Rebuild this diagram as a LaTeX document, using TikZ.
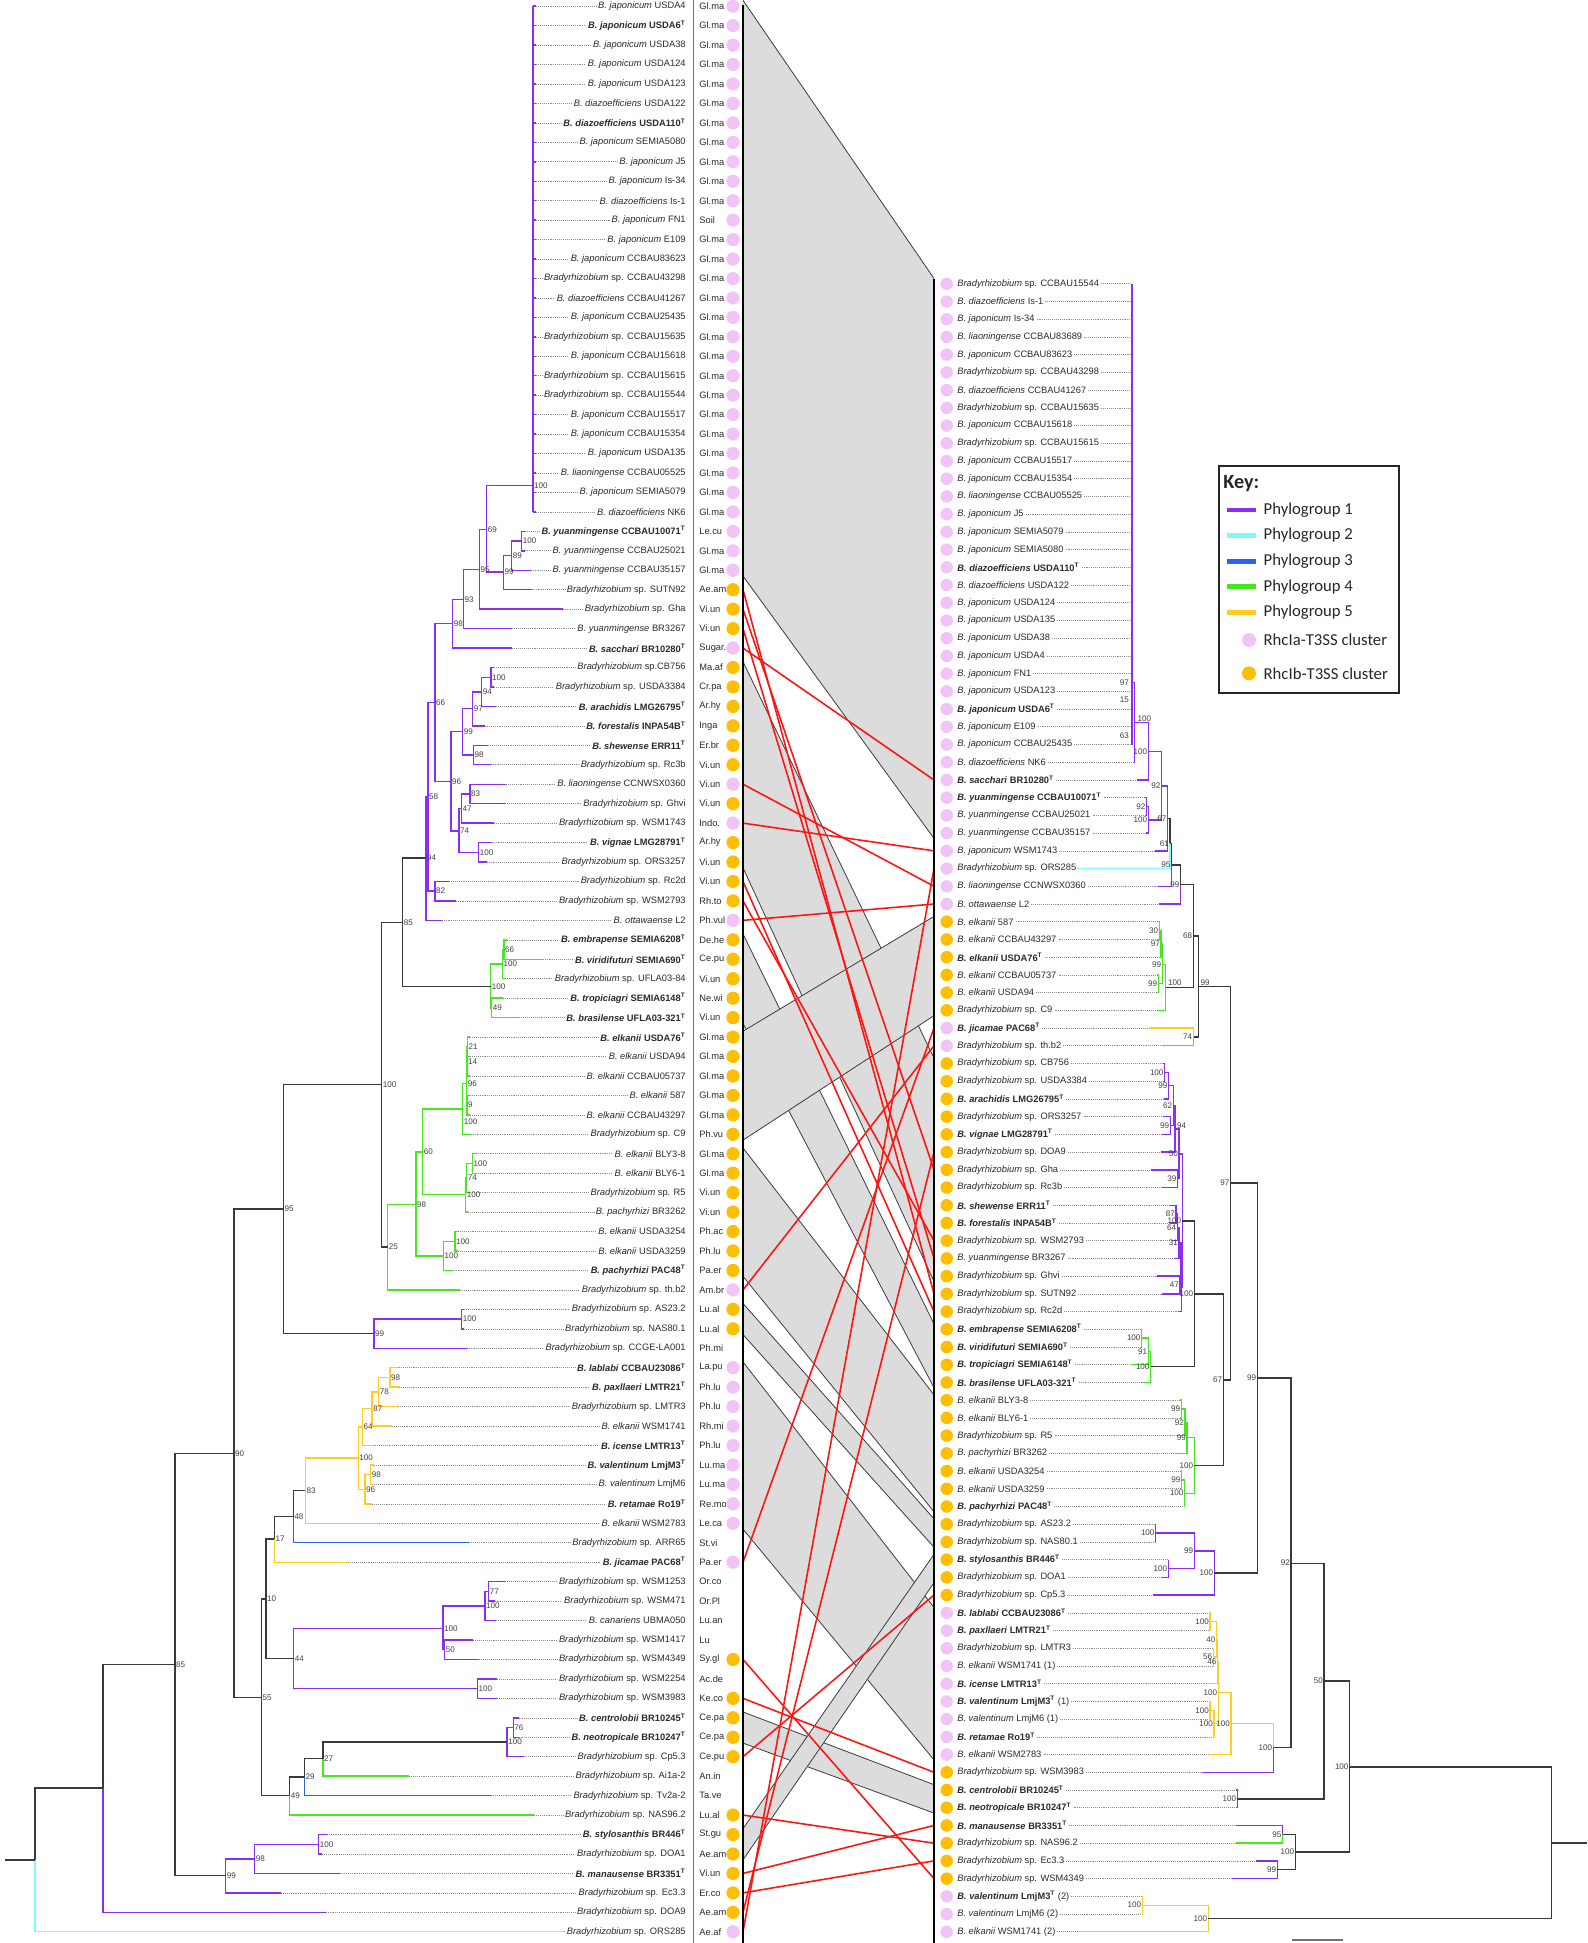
\documentclass[tikz,border=0pt]{standalone}
\usepackage{fontspec}
\setmainfont{Liberation Sans}
\newfontfamily\keyfont{Carlito}
\definecolor{pgA}{HTML}{8A2EF5}
\definecolor{pgB}{HTML}{7DFBFB}
\definecolor{pgC}{HTML}{2C62F2}
\definecolor{pgD}{HTML}{45E81C}
\definecolor{pgE}{HTML}{FFCC1F}
\definecolor{kk}{HTML}{3A3A3A}
\definecolor{dpink}{HTML}{F2C3F6}
\definecolor{dorange}{HTML}{FFBE00}
\definecolor{bandgrey}{HTML}{DCDCDC}
\definecolor{tangred}{HTML}{FF1414}
\definecolor{lbl}{HTML}{2A2A2A}
\definecolor{ldr}{HTML}{8C8C8C}
\definecolor{bst}{HTML}{404040}
\newcommand\tT{\textsuperscript{T}}
\newcommand\rg{\mdseries}
\newcommand\bd{\bfseries}
\tikzset{
  branch/.style={line width=0.8pt},
  leader/.style={draw=ldr,line width=0.35pt,dash pattern=on 0.45pt off 0.65pt},
  taxon/.style={font=\fontsize{5.3}{6.4}\selectfont,text=lbl,inner sep=0pt},
  hostdot/.style={circle,draw=none,minimum size=0.265cm,inner sep=0pt},
  bsl/.style={font=\fontsize{4.6}{5.4}\selectfont,text=bst,inner sep=0.5pt,anchor=west},
  bsr/.style={font=\fontsize{4.6}{5.4}\selectfont,text=bst,inner sep=0.5pt,anchor=east},
  bandedge/.style={draw=kk,line width=0.45pt},
  tangle/.style={draw=tangred,line width=0.9pt},
  axisline/.style={draw=black,line width=0.6pt},
  sepline/.style={draw=black!55,line width=0.4pt},
  keybox/.style={draw=black!85,line width=1pt},
  keyline/.style={line width=2.8pt},
  keyhead/.style={font=\keyfont\bfseries\fontsize{11.5}{13}\selectfont,anchor=west,inner sep=0pt,text=black!85},
  keytext/.style={font=\keyfont\fontsize{9.5}{11}\selectfont,anchor=west,inner sep=0pt,text=black!85}
}
\begin{document}
\begin{tikzpicture}[x=0.02cm,y=-0.02cm,
  declare function={yl(\q)=6.2+(\q-1)*19.45; yr(\q)=283.8+(\q-1)*17.72;}]
\useasboundingbox (0,0) rectangle (1587,1943);

% Left taxa: labels, host codes, T3SS dots
\foreach \i/\sn/\sr/\hc/\dc/\tx/\fw in {
 1/B. japonicum/USDA4/Gl.ma/dpink/536/\rg, 2/B. japonicum/USDA6\tT/Gl.ma/dpink/536/\bd,
 3/B. japonicum/USDA38/Gl.ma/dpink/536/\rg, 4/B. japonicum/USDA124/Gl.ma/dpink/536/\rg,
 5/B. japonicum/USDA123/Gl.ma/dpink/536/\rg, 6/B. diazoefficiens/USDA122/Gl.ma/dpink/536/\rg,
 7/B. diazoefficiens/USDA110\tT/Gl.ma/dpink/536/\bd, 8/B. japonicum/SEMIA5080/Gl.ma/dpink/536/\rg,
 9/B. japonicum/J5/Gl.ma/dpink/536/\rg, 10/B. japonicum/Is-34/Gl.ma/dpink/536/\rg,
 11/B. diazoefficiens/Is-1/Gl.ma/dpink/536/\rg, 12/B. japonicum/FN1/Soil/dpink/536/\rg,
 13/B. japonicum/E109/Gl.ma/dpink/536/\rg, 14/B. japonicum/CCBAU83623/Gl.ma/dpink/536/\rg,
 15/Bradyrhizobium/sp. CCBAU43298/Gl.ma/dpink/536/\rg, 16/B. diazoefficiens/CCBAU41267/Gl.ma/dpink/536/\rg,
 17/B. japonicum/CCBAU25435/Gl.ma/dpink/536/\rg, 18/Bradyrhizobium/sp. CCBAU15635/Gl.ma/dpink/536/\rg,
 19/B. japonicum/CCBAU15618/Gl.ma/dpink/536/\rg, 20/Bradyrhizobium/sp. CCBAU15615/Gl.ma/dpink/536/\rg,
 21/Bradyrhizobium/sp. CCBAU15544/Gl.ma/dpink/536/\rg, 22/B. japonicum/CCBAU15517/Gl.ma/dpink/536/\rg,
 23/B. japonicum/CCBAU15354/Gl.ma/dpink/536/\rg, 24/B. japonicum/USDA135/Gl.ma/dpink/536/\rg,
 25/B. liaoningense/CCBAU05525/Gl.ma/dpink/536/\rg, 26/B. japonicum/SEMIA5079/Gl.ma/dpink/536/\rg,
 27/B. diazoefficiens/NK6/Gl.ma/dpink/536/\rg, 28/B. yuanmingense/CCBAU10071\tT/Le.cu/dpink/525/\bd,
 29/B. yuanmingense/CCBAU25021/Gl.ma/dpink/525/\rg, 30/B. yuanmingense/CCBAU35157/Gl.ma/dpink/530.7/\rg,
 31/Bradyrhizobium/sp. SUTN92/Ae.am/dorange/531.7/\rg, 32/Bradyrhizobium/sp. Gha/Vi.un/dorange/562.7/\rg,
 33/B. yuanmingense/BR3267/Vi.un/dorange/512.3/\rg, 34/B. sacchari/BR10280\tT/Sugar./dpink/512.3/\bd,
 35/Bradyrhizobium/sp.CB756/Ma.af/dorange/494/\rg, 36/Bradyrhizobium/sp. USDA3384/Cr.pa/dorange/494/\rg,
 37/B. arachidis/LMG26795\tT/Ar.hy/dorange/496/\bd, 38/B. forestalis/INPA54B\tT/Inga/dorange/485/\bd,
 39/B. shewense/ERR11\tT/Er.br/dorange/488.3/\bd, 40/Bradyrhizobium/sp. Rc3b/Vi.un/dorange/490.7/\rg,
 41/B. liaoningense/CCNWSX0360/Vi.un/dpink/506/\rg, 42/Bradyrhizobium/sp. Ghvi/Vi.un/dorange/505/\rg,
 43/Bradyrhizobium/sp. WSM1743/Indo./dpink/494/\rg, 44/B. vignae/LMG28791\tT/Ar.hy/dorange/491.7/\bd,
 45/Bradyrhizobium/sp. ORS3257/Vi.un/dorange/486.7/\rg, 46/Bradyrhizobium/sp. Rc2d/Vi.un/dorange/449/\rg,
 47/Bradyrhizobium/sp. WSM2793/Rh.to/dorange/455.7/\rg, 48/B. ottawaense/L2/Ph.vul/dpink/441.7/\rg,
 49/B. embrapense/SEMIA6208\tT/De.he/dorange/507/\bd, 50/B. viridifuturi/SEMIA690\tT/Ce.pu/dorange/542.7/\bd,
 51/Bradyrhizobium/sp. UFLA03-84/Vi.un/dorange/505/\rg, 52/B. tropiciagri/SEMIA6148\tT/Ne.wi/dorange/503/\bd,
 53/B. brasilense/UFLA03-321\tT/Vi.un/dorange/519.3/\bd, 54/B. elkanii/USDA76\tT/Gl.ma/dorange/470/\bd,
 55/B. elkanii/USDA94/Gl.ma/dorange/470/\rg, 56/B. elkanii/CCBAU05737/Gl.ma/dorange/470/\rg,
 57/B. elkanii/587/Gl.ma/dorange/470/\rg, 58/B. elkanii/CCBAU43297/Gl.ma/dorange/470/\rg,
 59/Bradyrhizobium/sp. C9/Ph.vu/dorange/470.7/\rg, 60/B. elkanii/BLY3-8/Gl.ma/dorange/476/\rg,
 61/B. elkanii/BLY6-1/Gl.ma/dorange/476/\rg, 62/Bradyrhizobium/sp. R5/Vi.un/dorange/470/\rg,
 63/B. pachyrhizi/BR3262/Vi.un/dorange/468/\rg, 64/B. elkanii/USDA3254/Ph.ac/dorange/458/\rg,
 65/B. elkanii/USDA3259/Ph.lu/dorange/458/\rg, 66/B. pachyrhizi/PAC48\tT/Pa.er/dorange/451.7/\bd,
 67/Bradyrhizobium/sp. th.b2/Am.br/dpink/460/\rg, 68/Bradyrhizobium/sp. AS23.2/Lu.al/dorange/464/\rg,
 69/Bradyrhizobium/sp. NAS80.1/Lu.al/dorange/464/\rg, 70/Bradyrhizobium/sp. CCGE-LA001/Ph.mi/none/466.7/\rg,
 71/B. lablabi/CCBAU23086\tT/La.pu/dpink/399/\bd, 72/B. paxllaeri/LMTR21\tT/Ph.lu/dpink/399/\bd,
 73/Bradyrhizobium/sp. LMTR3/Ph.lu/dpink/398.2/\rg, 74/B. elkanii/WSM1741/Rh.mi/dpink/392/\rg,
 75/B. icense/LMTR13\tT/Ph.lu/dpink/375/\bd, 76/B. valentinum/LmjM3\tT/Lu.ma/dpink/374/\bd,
 77/B. valentinum/LmjM6/Lu.ma/dpink/374/\rg, 78/B. retamae/Ro19\tT/Re.mo/dpink/372/\bd,
 79/B. elkanii/WSM2783/Le.ca/dpink/379.3/\rg, 80/Bradyrhizobium/sp. ARR65/St.vi/none/469/\rg,
 81/B. jicamae/PAC68\tT/Pa.er/dpink/348.2/\bd, 82/Bradyrhizobium/sp. WSM1253/Or.co/none/505.4/\rg,
 83/Bradyrhizobium/sp. WSM471/Or.Pl/none/494.6/\rg, 84/B. canariens/UBMA050/Lu.an/none/496.4/\rg,
 85/Bradyrhizobium/sp. WSM1417/Lu/none/473.2/\rg, 86/Bradyrhizobium/sp. WSM4349/Sy.gl/dorange/477.5/\rg,
 87/Bradyrhizobium/sp. WSM2254/Ac.de/none/497/\rg, 88/Bradyrhizobium/sp. WSM3983/Ke.co/dorange/497/\rg,
 89/B. centrolobii/BR10245\tT/Ce.pa/dorange/518.6/\bd, 90/B. neotropicale/BR10247\tT/Ce.pa/dorange/518.6/\bd,
 91/Bradyrhizobium/sp. Cp5.3/Ce.pu/dorange/524.3/\rg, 92/Bradyrhizobium/sp. Ai1a-2/An.in/none/409/\rg,
 93/Bradyrhizobium/sp. Tv2a-2/Ta.ve/none/491/\rg, 94/Bradyrhizobium/sp. NAS96.2/Lu.al/dorange/534/\rg,
 95/B. stylosanthis/BR446\tT/St.gu/dorange/326.8/\bd, 96/Bradyrhizobium/sp. DOA1/Ae.am/dorange/322/\rg,
 97/B. manausense/BR3351\tT/Vi.un/dorange/340/\bd, 98/Bradyrhizobium/sp. Ec3.3/Er.co/dorange/281/\rg,
 99/Bradyrhizobium/sp. DOA9/Ae.am/dorange/325.7/\rg, 100/Bradyrhizobium/sp. ORS285/Ae.af/dpink/564/\rg}{
  \coordinate (L\i) at (743,{yl(\i)});
  \coordinate (tl\i) at (\tx,{yl(\i)});
  \node[taxon,anchor=east] (ll\i) at (686,{yl(\i)}) {\fw\textit{\sn} \sr};
  \node[taxon,anchor=west] (lh\i) at (699,{yl(\i)}) {\hc};
  \node[hostdot,fill=\dc] (ld\i) at (733,{yl(\i)}) {};
  \draw[leader] (tl\i) -- ([xshift=-1pt]ll\i.west);
}

% Right taxa
\foreach \j/\sn/\sr/\dc/\tx/\fw in {
 1/Bradyrhizobium/sp. CCBAU15544/dpink/1131.7/\rg, 2/B. diazoefficiens/Is-1/dpink/1131.7/\rg,
 3/B. japonicum/Is-34/dpink/1131.7/\rg, 4/B. liaoningense/CCBAU83689/dpink/1131.7/\rg,
 5/B. japonicum/CCBAU83623/dpink/1131.7/\rg, 6/Bradyrhizobium/sp. CCBAU43298/dpink/1131.7/\rg,
 7/B. diazoefficiens/CCBAU41267/dpink/1131.7/\rg, 8/Bradyrhizobium/sp. CCBAU15635/dpink/1131.7/\rg,
 9/B. japonicum/CCBAU15618/dpink/1131.7/\rg, 10/Bradyrhizobium/sp. CCBAU15615/dpink/1131.7/\rg,
 11/B. japonicum/CCBAU15517/dpink/1131.7/\rg, 12/B. japonicum/CCBAU15354/dpink/1131.7/\rg,
 13/B. liaoningense/CCBAU05525/dpink/1131.7/\rg, 14/B. japonicum/J5/dpink/1131.7/\rg,
 15/B. japonicum/SEMIA5079/dpink/1131.7/\rg, 16/B. japonicum/SEMIA5080/dpink/1131.7/\rg,
 17/B. diazoefficiens/USDA110\tT/dpink/1131.7/\bd, 18/B. diazoefficiens/USDA122/dpink/1131.7/\rg,
 19/B. japonicum/USDA124/dpink/1131.7/\rg, 20/B. japonicum/USDA135/dpink/1131.7/\rg,
 21/B. japonicum/USDA38/dpink/1131.7/\rg, 22/B. japonicum/USDA4/dpink/1131.7/\rg,
 23/B. japonicum/FN1/dpink/1131.7/\rg, 24/B. japonicum/USDA123/dpink/1131.7/\rg,
 25/B. japonicum/USDA6\tT/dpink/1131.7/\bd, 26/B. japonicum/E109/dpink/1131.7/\rg,
 27/B. japonicum/CCBAU25435/dpink/1131.7/\rg, 28/B. diazoefficiens/NK6/dpink/1134/\rg,
 29/B. sacchari/BR10280\tT/dpink/1137.3/\bd, 30/B. yuanmingense/CCBAU10071\tT/dpink/1145/\bd,
 31/B. yuanmingense/CCBAU25021/dpink/1145/\rg, 32/B. yuanmingense/CCBAU35157/dpink/1146/\rg,
 33/B. japonicum/WSM1743/dpink/1155/\rg, 34/Bradyrhizobium/sp. ORS285/dpink/1080/\rg,
 35/B. liaoningense/CCNWSX0360/dpink/1157.7/\rg, 36/B. ottawaense/L2/dpink/1159.3/\rg,
 37/B. elkanii/587/dorange/1158/\rg, 38/B. elkanii/CCBAU43297/dorange/1158/\rg,
 39/B. elkanii/USDA76\tT/dorange/1160/\bd, 40/B. elkanii/CCBAU05737/dorange/1157/\rg,
 41/B. elkanii/USDA94/dorange/1157/\rg, 42/Bradyrhizobium/sp. C9/dorange/1158.3/\rg,
 43/B. jicamae/PAC68\tT/dpink/1149.3/\bd, 44/Bradyrhizobium/sp. th.b2/dpink/1161.7/\rg,
 45/Bradyrhizobium/sp. CB756/dorange/1163/\rg, 46/Bradyrhizobium/sp. USDA3384/dorange/1163/\rg,
 47/B. arachidis/LMG26795\tT/dorange/1164/\bd, 48/Bradyrhizobium/sp. ORS3257/dorange/1163/\rg,
 49/B. vignae/LMG28791\tT/dorange/1162/\bd, 50/Bradyrhizobium/sp. DOA9/dorange/1161/\rg,
 51/Bradyrhizobium/sp. Gha/dorange/1151/\rg, 52/Bradyrhizobium/sp. Rc3b/dorange/1162.3/\rg,
 53/B. shewense/ERR11\tT/dorange/1170/\bd, 54/B. forestalis/INPA54B\tT/dorange/1170/\bd,
 55/Bradyrhizobium/sp. WSM2793/dorange/1172/\rg, 56/B. yuanmingense/BR3267/dorange/1174/\rg,
 57/Bradyrhizobium/sp. Ghvi/dorange/1157.3/\rg, 58/Bradyrhizobium/sp. SUTN92/dorange/1162.3/\rg,
 59/Bradyrhizobium/sp. Rc2d/dorange/1177.7/\rg, 60/B. embrapense/SEMIA6208\tT/dorange/1141/\bd,
 61/B. viridifuturi/SEMIA690\tT/dorange/1141/\bd, 62/B. tropiciagri/SEMIA6148\tT/dorange/1131.7/\bd,
 63/B. brasilense/UFLA03-321\tT/dorange/1143.3/\bd, 64/B. elkanii/BLY3-8/dorange/1180/\rg,
 65/B. elkanii/BLY6-1/dorange/1180/\rg, 66/Bradyrhizobium/sp. R5/dorange/1175.7/\rg,
 67/B. pachyrhizi/BR3262/dorange/1176/\rg, 68/B. elkanii/USDA3254/dorange/1181/\rg,
 69/B. elkanii/USDA3259/dorange/1181/\rg, 70/B. pachyrhizi/PAC48\tT/dorange/1184/\bd,
 71/Bradyrhizobium/sp. AS23.2/dorange/1155.7/\rg, 72/Bradyrhizobium/sp. NAS80.1/dorange/1155.7/\rg,
 73/B. stylosanthis/BR446\tT/dorange/1168.3/\bd, 74/Bradyrhizobium/sp. DOA1/dorange/1161/\rg,
 75/Bradyrhizobium/sp. Cp5.3/dorange/1153.3/\rg, 76/B. lablabi/CCBAU23086\tT/dpink/1209/\bd,
 77/B. paxllaeri/LMTR21\tT/dpink/1209/\bd, 78/Bradyrhizobium/sp. LMTR3/dpink/1213/\rg,
 79/B. elkanii/WSM1741 (1)/dpink/1213/\rg, 80/B. icense/LMTR13\tT/dpink/1206.7/\bd,
 81/B. valentinum/LmjM3\tT{} \textmd{(1)}/dpink/1209.3/\bd, 82/B. valentinum/LmjM6 (1)/dpink/1209.3/\rg,
 83/B. retamae/Ro19\tT/dpink/1213.3/\bd, 84/B. elkanii/WSM2783/dpink/1210/\rg,
 85/Bradyrhizobium/sp. WSM3983/dorange/1202.3/\rg, 86/B. centrolobii/BR10245\tT/dorange/1236/\bd,
 87/B. neotropicale/BR10247\tT/dorange/1236/\bd, 88/B. manausense/BR3351\tT/dorange/1235.7/\bd,
 89/Bradyrhizobium/sp. NAS96.2/dorange/1235.7/\rg, 90/Bradyrhizobium/sp. Ec3.3/dorange/1255.7/\rg,
 91/Bradyrhizobium/sp. WSM4349/dorange/1231.7/\rg, 92/B. valentinum/LmjM3\tT{} \textmd{(2)}/dpink/1142/\bd,
 93/B. valentinum/LmjM6 (2)/dpink/1142/\rg, 94/B. elkanii/WSM1741 (2)/dpink/1078/\rg}{
  \coordinate (R\j) at (934,{yr(\j)});
  \coordinate (tr\j) at (\tx,{yr(\j)});
  \node[hostdot,fill=\dc,minimum size=0.25cm] (rd\j) at (946.7,{yr(\j)}) {};
  \node[taxon,anchor=west] (rl\j) at (957,{yr(\j)}) {\fw\textit{\sn} \sr};
  \draw[leader] ([xshift=1pt]rl\j.east) -- (tr\j);
}

% Congruent blocks
\foreach \la/\lb/\ra/\rb in {1/30/1/32, 35/45/45/57, 49/53/60/63, 54/59/37/42, 60/66/64/70,
  68/69/71/72, 71/79/76/84, 89/90/86/87, 95/96/73/74}{
  \fill[bandgrey] (743,{yl(\la-0.3)}) -- (934,{yr(\ra-0.3)}) -- (934,{yr(\rb+0.3)}) -- (743,{yl(\lb+0.3)}) -- cycle;
  \draw[bandedge] (743,{yl(\la-0.3)}) -- (934,{yr(\ra-0.3)});
  \draw[bandedge] (743,{yl(\lb+0.3)}) -- (934,{yr(\rb+0.3)});
}
% Incongruent strains
\foreach \a/\b in {31/58, 32/51, 33/56, 34/29, 41/35, 43/33, 46/59, 47/55, 48/36, 67/44,
  81/43, 86/91, 88/85, 91/75, 94/89, 97/88, 98/90, 99/50, 100/34}
  \draw[tangle] (L\a) -- (R\b);
\draw[axisline] (743,5) -- (743,1943);
\draw[axisline] (934,279) -- (934,1943);
\draw[sepline] (693,0) -- (693,1943);

% Left tree nodes
\foreach \nd/\x/\q in {aT1/533/25.65, a100y/521.7/28.5, a89/511.7/29.25, a99y/503.3/30.1, a69/486.7/27.9,
  a95a/479.3/29.95, a93/463.3/31.5, a98a/452.7/32.75, a100c/491/35.5, a94a/481.7/36.25, a97a/472.7/37.1,
  a98b/473.3/39.5, a99a/462.7/38.3, a83/470/41.5, a47/461.3/42.25, a100d/478.7/44.5, a74/459/43.4,
  a96/451/40.85, a66/435/36.8, a82/435/46.5, a58/428/41.65, a94b/426/44.8, a66g/504/49.5,
  a100u/502.3/50.25, a49/491.7/52.5, a100e/490.7/51.4, a85a/402.7/48.1, ae21/467.5/54.5, ae14/467/55.25,
  ae9/467/57.5, ae96/466.7/56.4, ae100/462.7/57.7, af100/472.3/60.5, af74/466.7/61.25, af100b/465.7/62.1,
  ag60/422.7/59.9, ah100/455/64.5, ah100b/443.3/65.25, ag98/416/62.6, ag25/387.7/64.8, ak100/381.7/56.45,
  am100/461.7/68.5, am99/374/69.25, an95/283.3/62.85, ay98/390/71.5, ay78/378.6/72.25, ay87/372.1/73.1,
  ay64/362.5/74.05, ay98b/370.7/76.5, ay96/365/77.25, ay100/358.2/75.65, ay83/305.4/77.3, ay48/293.2/78.65,
  ay17/274.3/79.8, ap77/488.6/82.5, ap100a/485/83.25, ap50/444.6/85.5, ap100b/442.9/84.4, ap100c/477.5/87.5,
  ap44/293.6/85.95, az10/266/82.9, aq76/513.2/89.5, aq100/507.1/90.25, aq27/322.9/91.1, aq29/304.3/92.05,
  aq49/289.6/93.0, az55/261.4/87.95, az90/234/75.4, as100/318.6/95.5, as98/254.6/96.25, as99/225.7/97.1,
  az85/175/86.25, az0/103/92.6, aroot/35/96.3}
  \coordinate (\nd) at (\x,{yl(\q)});

% Right tree nodes
\foreach \nd/\x/\q in {bP1/1132/23.5, b100a/1134.3/25.75, b100b/1148.3/27.4, b92b/1146.7/30.5,
  b100c/1148.3/31.25, b92a/1161.7/29.33, b67/1167.7/31.17, b61/1170/32.58, b95/1171.7/33.8,
  b99a/1180.7/34.9, b30/1159.3/37.5, b97/1161/38.25, b99b/1158.3/40.5, b99c/1162.3/39.4,
  b100g/1165.7/40.7, b68/1193.3/37.8, b74/1193.3/43.5, b99d/1198.3/40.65, b100h/1164.7/45.5,
  b99e/1168.7/46.25, b99f/1170.3/48.5, b62/1173.3/47.4, b94/1175/48.7, b39/1177.7/51.5, b50/1179/50.1,
  b87/1176/53.5, b64/1177.3/54.25, b31/1179/55.1, b47/1180/57.5, bx1/1181/56.3, bx2/1181.5/57.65,
  b100i/1182.3/53.9, b100l/1141.7/60.5, b91/1148.3/61.25, b100k/1150.7/62.1, b100j/1194.3/58.0,
  b99h/1181.3/64.5, b92/1185/65.25, b99g/1187/66.1, b99i/1181.7/68.5, b100o/1184.7/69.25,
  b100m/1194.3/67.7, b67b/1223.3/62.85, b97b/1230.7/51.75, b100q/1155.7/71.5, b100r/1168.3/73.5,
  b99k/1194.3/72.5, b100p/1214.3/73.75, b99j/1257.3/62.75, b100t/1210/76.5, b56/1213.3/78.5,
  b40/1216.7/77.5, b46/1217.7/78.75, b100w/1210/81.5, b100x/1214/82.25, b100v/1218.3/80.5,
  b100y/1231/82.25, b100z/1273.3/83.6, b92c/1291/73.2, b100aa/1237.3/86.5, b50b/1324/79.85,
  b95b/1282.7/88.5, b99l/1277.3/90.5, b100cc/1295.3/89.5, b100bb/1349.7/84.7, b100ee/1142.3/92.5,
  b100dd/1208.3/93.25, broot/1551.7/89.0}
  \coordinate (\nd) at (\x,{yr(\q)});

% Polytomies
\draw[branch,draw=pgA] (533,{yl(1)}) -- (533,{yl(27)});
\foreach \i in {1,...,27} \draw[branch,draw=pgA] (533,{yl(\i)}) -- (tl\i);
\draw[branch,draw=pgA] (1132,{yr(1)}) -- (1132,{yr(27)});

% Brackets, one colour
\foreach \col/\ca/\nd/\cb in {
  pgA/tl28/a100y/tl29, pgA/a100y/a89/tl30, pgA/a89/a99y/tl31, pgA/aT1/a69/a99y, pgA/a69/a95a/tl32,
  pgA/a95a/a93/tl33, pgA/a93/a98a/tl34, pgA/tl35/a100c/tl36, pgA/a100c/a94a/tl37, pgA/a94a/a97a/tl38,
  pgA/tl39/a98b/tl40, pgA/a97a/a99a/a98b, pgA/tl41/a83/tl42, pgA/a83/a47/tl43, pgA/tl44/a100d/tl45,
  pgA/a47/a74/a100d, pgA/a99a/a96/a74, pgA/a98a/a66/a96, pgA/tl46/a82/tl47, pgA/a66/a58/a82,
  pgA/a58/a94b/tl48, pgD/tl49/a66g/tl50, pgD/a66g/a100u/tl51, pgD/tl52/a49/tl53, pgD/a100u/a100e/a49,
  kk/a94b/a85a/a100e, pgD/tl54/ae21/tl55, pgD/ae21/ae14/tl56, pgD/tl57/ae9/tl58, pgD/ae14/ae96/ae9,
  pgD/ae96/ae100/tl59, pgD/tl60/af100/tl61, pgD/af100/af74/tl62, pgD/af74/af100b/tl63,
  pgD/ae100/ag60/af100b, pgD/tl64/ah100/tl65, pgD/ah100/ah100b/tl66, pgD/ag60/ag98/ah100b,
  pgD/ag98/ag25/tl67, kk/a85a/ak100/ag25, pgA/tl68/am100/tl69, pgA/am100/am99/tl70, kk/ak100/an95/am99,
  pgE/tl71/ay98/tl72, pgE/ay98/ay78/tl73, pgE/ay78/ay87/tl74, pgE/ay87/ay64/tl75, pgE/tl76/ay98b/tl77,
  pgE/ay98b/ay96/tl78, pgE/ay64/ay100/ay96, pgE/ay100/ay83/tl79, pgA/tl82/ap77/tl83,
  pgA/ap77/ap100a/tl84, pgA/tl85/ap50/tl86, pgA/ap100a/ap100b/ap50, pgA/tl87/ap100c/tl88,
  pgA/ap100b/ap44/ap100c, kk/ay17/az10/ap44, pgA/tl89/aq76/tl90, pgA/aq76/aq100/tl91,
  kk/az10/az55/aq49, kk/an95/az90/az55, pgA/tl95/as100/tl96, pgA/as100/as98/tl97, pgA/as98/as99/tl98,
  kk/az90/az85/as99,
  pgA/bP1/b100a/tr28, pgA/b100a/b100b/tr29, pgA/tr30/b92b/tr31, pgA/b92b/b100c/tr32,
  pgA/b100b/b92a/b100c, pgA/b92a/b67/tr33, pgD/tr37/b30/tr38, pgD/b30/b97/tr39, pgD/tr40/b99b/tr41,
  pgD/b97/b99c/b99b, pgD/b99c/b100g/tr42, kk/b99a/b68/b100g, kk/b68/b99d/b74, pgA/tr45/b100h/tr46,
  pgA/b100h/b99e/tr47, pgA/tr48/b99f/tr49, pgA/b99e/b62/b99f, pgA/b62/b94/tr50, pgA/tr51/b39/tr52,
  pgA/b94/b50/b39, pgA/tr53/b87/tr54, pgA/b87/b64/tr55, pgA/b64/b31/tr56, pgA/tr57/b47/tr58,
  pgA/b31/bx1/b47, pgA/bx1/bx2/tr59, pgA/b50/b100i/bx2, pgD/tr60/b100l/tr61, pgD/b100l/b91/tr62,
  pgD/b91/b100k/tr63, kk/b100i/b100j/b100k, pgD/tr64/b99h/tr65, pgD/b99h/b92/tr66, pgD/b92/b99g/tr67,
  pgD/tr68/b99i/tr69, pgD/b99i/b100o/tr70, pgD/b99g/b100m/b100o, kk/b100j/b67b/b100m,
  kk/b99d/b97b/b67b, pgA/tr71/b100q/tr72, pgA/tr73/b100r/tr74, pgA/b100q/b99k/b100r,
  pgA/b99k/b100p/tr75, kk/b97b/b99j/b100p, pgE/tr76/b100t/tr77, pgE/tr78/b56/tr79, pgE/b100t/b40/b56,
  pgE/b40/b46/tr80, pgE/tr81/b100w/tr82, pgE/b100w/b100x/tr83, pgE/b46/b100v/b100x,
  pgE/b100v/b100y/tr84, kk/b99j/b92c/b100z, pgA/tr86/b100aa/tr87, kk/b92c/b50b/b100aa,
  pgA/tr90/b99l/tr91, kk/b95b/b100cc/b99l, kk/b50b/b100bb/b100cc, pgE/tr92/b100ee/tr93,
  pgE/b100ee/b100dd/tr94, kk/b100bb/broot/b100dd}
  \draw[branch,draw=\col] (\ca) -| (\nd) |- (\cb);

% Brackets, two colours
\foreach \cu/\cl/\ca/\nd/\cb in {kk/pgC/ay83/ay48/tl80, kk/pgE/ay48/ay17/tl81, kk/pgD/aq100/aq27/tl92,
  kk/pgC/aq27/aq29/tl93, kk/pgD/aq29/aq49/tl94, kk/pgA/az85/az0/tl99, kk/pgB/az0/aroot/tl100,
  kk/pgB/b67/b61/tr34, kk/pgA/b61/b95/tr35, kk/pgA/b95/b99a/tr36, pgE/pgD/tr43/b74/tr44,
  pgE/pgA/b100y/b100z/tr85, pgA/pgD/tr88/b95b/tr89}{
  \draw[branch,draw=\cu] (\ca) -| (\nd);
  \draw[branch,draw=\cl] (\nd) |- (\cb);
}
\draw[branch,draw=kk] (5,{yl(96.3)}) -- (aroot);
\draw[branch,draw=kk] (broot) -- (1587,{yr(89)});

% Bootstrap values
\foreach \nd/\v in {aT1/100, a100y/100, a89/89, a99y/99, a69/69, a95a/95, a93/93, a98a/98, a100c/100,
  a94a/94, a97a/97, a98b/98, a99a/99, a83/83, a47/47, a100d/100, a74/74, a96/96, a66/66, a82/82, a58/58,
  a94b/94, a66g/66, a100u/100, a49/49, a100e/100, a85a/85, ae21/21, ae14/14, ae9/9, ae96/96,
  af100/100, af74/74, af100b/100, ag60/60, ah100/100, ah100b/100, ag98/98, ag25/25, ak100/100,
  am100/100, am99/99, an95/95, ay98/98, ay78/78, ay87/87, ay64/64, ay98b/98, ay96/96, ay100/100,
  ay83/83, ay48/48, ay17/17, ap77/77, ap100a/100, ap50/50, ap100b/100, ap100c/100, ap44/44, az10/10,
  aq76/76, aq100/100, aq27/27, aq29/29, aq49/49, az55/55, az90/90, as100/100, as98/98, as99/99, az85/85}
  \node[bsl] (v\nd) at (\nd) {\v};
\node[bsl] (vae100) at (462.7,{yl(58.35)}) {100};
\foreach \nd/\v in {b100b/100, b92b/92, b100c/100, b92a/92, b67/67, b61/61, b95/95, b99a/99, b30/30,
  b97/97, b99b/99, b99c/99, b68/68, b74/74, b100h/100, b99e/99, b99f/99, b62/62, b39/39,
  b50/50, b87/87, b64/64, b31/31, b47/47, b100i/100, b100l/100, b91/91, b100k/100, b100j/100, b99h/99,
  b92/92, b99g/99, b99i/99, b100o/100, b100m/100, b67b/67, b97b/97, b100q/100, b100r/100, b99k/99,
  b100p/100, b99j/99, b100t/100, b56/56, b40/40, b46/46, b100w/100, b100x/100, b100v/100, b100y/100,
  b100z/100, b92c/92, b100aa/100, b50b/50, b95b/95, b99l/99, b100cc/100, b100bb/100, b100ee/100,
  b100dd/100}
  \node[bsr] (v\nd) at (\nd) {\v};
\node[bsl] (vb94) at (1176,{yr(48.5)}) {94};
\node[bsr] (vb97t) at (1130,{yr(23.5)}) {97};
\node[bsr] (vb15t) at (1130,{yr(24.5)}) {15};
\node[bsr] (vb63t) at (1130,{yr(26.5)}) {63};
\node[bsl] (vb100a) at (1136.5,719) {100};
\node[bsl] (vb100g) at (1167,983) {100};
\node[bsl] (vb99d) at (1199.5,983) {99};

% Scale bar
\draw[draw=black!55,line width=0.9pt] (1292,1940) -- (1343,1940);

% Key
\draw[keybox] (1219,465.7) rectangle (1399,693.3);
\node[keyhead] (keytitle) at (1223,484) {Key:};
\foreach \k/\col/\txt in {1/pgA/Phylogroup 1, 2/pgB/Phylogroup 2, 3/pgC/Phylogroup 3,
  4/pgD/Phylogroup 4, 5/pgE/Phylogroup 5}{
  \coordinate (ks\k) at (1226.7,{510+(\k-1)*25.6});
  \coordinate (ke\k) at (1256,{510+(\k-1)*25.6});
  \draw[keyline,draw=\col] (ks\k) -- (ke\k);
  \node[keytext] (kt\k) at (1263.3,{510+(\k-1)*25.6}) {\txt};
}
\node[hostdot,fill=dpink,minimum size=0.28cm] (kdA) at (1249,640) {};
\node[keytext] (ktA) at (1263.3,640) {RhcIa-T3SS cluster};
\node[hostdot,fill=dorange,minimum size=0.28cm] (kdB) at (1249,673.3) {};
\node[keytext] (ktB) at (1263.3,673.3) {RhcIb-T3SS cluster};
\end{tikzpicture}
\end{document}
